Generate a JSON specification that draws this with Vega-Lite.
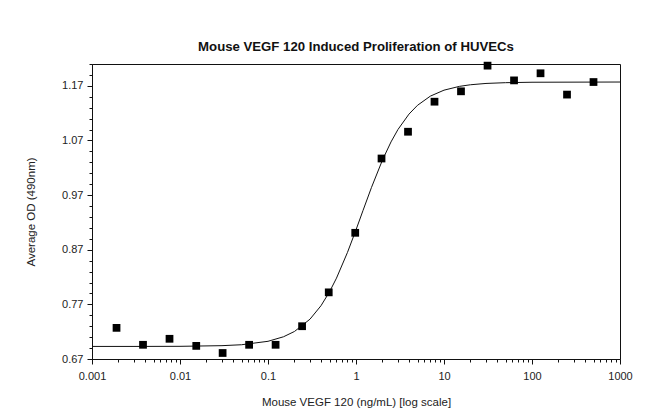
{
  "$schema": "https://vega.github.io/schema/vega-lite/v6.json",
  "width": 528,
  "height": 295,
  "autosize": "none",
  "padding": {"left": 92, "top": 64, "right": 30, "bottom": 58},
  "background": "white",
  "title": {
    "text": "Mouse VEGF 120 Induced Proliferation of HUVECs",
    "font": "Liberation Sans Narrow, Liberation Sans",
    "fontSize": 13.2,
    "fontWeight": "bold",
    "color": "#111",
    "anchor": "middle",
    "offset": 8
  },
  "config": {
    "view": {"stroke": "#111", "strokeWidth": 1},
    "axis": {
      "grid": false,
      "domainColor": "#111",
      "tickColor": "#111",
      "labelColor": "#222",
      "titleColor": "#222",
      "labelFont": "Liberation Sans",
      "titleFont": "Liberation Sans",
      "labelFontSize": 11,
      "titleFontSize": 11.5,
      "titleFontWeight": "normal"
    }
  },
  "datasets": {
    "points": [
      {"conc": 0.0019, "od": 0.727},
      {"conc": 0.0038, "od": 0.696},
      {"conc": 0.0076, "od": 0.707},
      {"conc": 0.0153, "od": 0.694},
      {"conc": 0.0305, "od": 0.681},
      {"conc": 0.061, "od": 0.696},
      {"conc": 0.122, "od": 0.696},
      {"conc": 0.244, "od": 0.730},
      {"conc": 0.49, "od": 0.792},
      {"conc": 0.98, "od": 0.901},
      {"conc": 1.95, "od": 1.037},
      {"conc": 3.9, "od": 1.086},
      {"conc": 7.8, "od": 1.141},
      {"conc": 15.6, "od": 1.160},
      {"conc": 31.25, "od": 1.207},
      {"conc": 62.5, "od": 1.180},
      {"conc": 125, "od": 1.193},
      {"conc": 250, "od": 1.154},
      {"conc": 500, "od": 1.177}
    ],
    "curve": [
      {"conc": 0.001, "od": 0.6930},
      {"conc": 0.003, "od": 0.6930},
      {"conc": 0.01, "od": 0.6932},
      {"conc": 0.03, "od": 0.6944},
      {"conc": 0.05, "od": 0.6961},
      {"conc": 0.1, "od": 0.7024},
      {"conc": 0.15, "od": 0.7107},
      {"conc": 0.2, "od": 0.7204},
      {"conc": 0.3, "od": 0.7429},
      {"conc": 0.4, "od": 0.7675},
      {"conc": 0.5, "od": 0.7929},
      {"conc": 0.6, "od": 0.8180},
      {"conc": 0.8, "od": 0.8651},
      {"conc": 1, "od": 0.9064},
      {"conc": 1.2, "od": 0.9416},
      {"conc": 1.5, "od": 0.9841},
      {"conc": 2, "od": 1.0343},
      {"conc": 2.5, "od": 1.0674},
      {"conc": 3, "od": 1.0902},
      {"conc": 4, "od": 1.1183},
      {"conc": 5, "od": 1.1344},
      {"conc": 7, "od": 1.1512},
      {"conc": 10, "od": 1.1621},
      {"conc": 15, "od": 1.1691},
      {"conc": 20, "od": 1.1720},
      {"conc": 30, "od": 1.1744},
      {"conc": 50, "od": 1.1758},
      {"conc": 100, "od": 1.1766},
      {"conc": 1000, "od": 1.1770}
    ]
  },
  "encoding": {
    "x": {
      "field": "conc",
      "type": "quantitative",
      "scale": {"type": "log", "domain": [0.001, 1000], "nice": false},
      "axis": {
        "title": "Mouse VEGF 120 (ng/mL) [log scale]",
        "values": [0.001, 0.002, 0.003, 0.004, 0.005, 0.006, 0.007, 0.008, 0.009,
                   0.01, 0.02, 0.03, 0.04, 0.05, 0.06, 0.07, 0.08, 0.09,
                   0.1, 0.2, 0.3, 0.4, 0.5, 0.6, 0.7, 0.8, 0.9,
                   1, 2, 3, 4, 5, 6, 7, 8, 9,
                   10, 20, 30, 40, 50, 60, 70, 80, 90,
                   100, 200, 300, 400, 500, 600, 700, 800, 900, 1000],
        "labelExpr": "abs(log(datum.value)/LN10 - round(log(datum.value)/LN10)) < 0.001 ? datum.value : ''",
        "tickSize": {"condition": {"test": "abs(log(datum.value)/LN10 - round(log(datum.value)/LN10)) < 0.001", "value": 5}, "value": 3},
        "labelPadding": 6,
        "labelFlush": false,
        "titlePadding": 15
      }
    },
    "y": {
      "field": "od",
      "type": "quantitative",
      "scale": {"domain": [0.67, 1.21], "nice": false, "zero": false},
      "axis": {
        "title": "Average OD (490nm)",
        "values": [0.67, 0.69, 0.71, 0.73, 0.75, 0.77, 0.79, 0.81, 0.83, 0.85, 0.87, 0.89,
                   0.91, 0.93, 0.95, 0.97, 0.99, 1.01, 1.03, 1.05, 1.07, 1.09, 1.11, 1.13,
                   1.15, 1.17, 1.19, 1.21],
        "labelExpr": "round((datum.value - 0.67) * 100) % 10 == 0 && datum.value < 1.2 ? format(datum.value, '.2f') : ''",
        "tickSize": {"condition": {"test": "round((datum.value - 0.67) * 100) % 10 == 0", "value": 5}, "value": 3},
        "labelPadding": 4,
        "labelFlush": false,
        "titlePadding": 25
      }
    }
  },
  "layer": [
    {
      "data": {"name": "curve"},
      "mark": {"type": "line", "color": "#111", "strokeWidth": 1, "clip": true}
    },
    {
      "data": {"name": "points"},
      "mark": {"type": "point", "shape": "square", "filled": true, "color": "#000", "size": 60, "opacity": 1}
    }
  ]
}
